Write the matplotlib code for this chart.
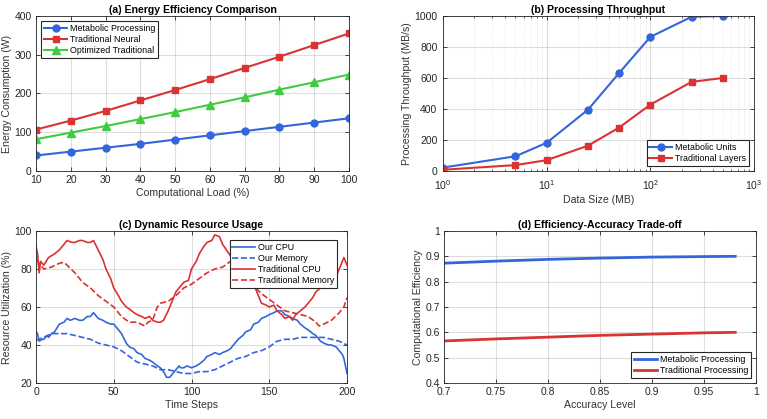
import numpy as np
import matplotlib.pyplot as plt

plt.rcParams['font.family'] = ['Liberation Sans', 'DejaVu Sans']
plt.rcParams['font.size'] = 7.5

BLUE = (0.2, 0.4, 0.86)
RED = (0.85, 0.2, 0.2)
GREEN = (0.25, 0.8, 0.25)
AXC = (0.15, 0.15, 0.15)
LBL = (0.2, 0.2, 0.2)

# (a) energy
load = [10, 20, 30, 40, 50, 60, 70, 80, 90, 100]
e_metabolic = [40, 50, 60, 70, 81, 92, 103, 114, 125, 136]
e_neural = [107, 130, 155, 182, 209, 237, 266, 295, 325, 355]
e_optimized = [82, 99, 116, 134, 152, 171, 190, 210, 229, 249]

# (b) throughput
size_mb = [1, 5, 10, 25, 50, 100, 250, 500]
tp_metabolic = [22, 95, 182, 395, 632, 865, 995, 1000]
tp_traditional = [8, 38, 70, 163, 280, 428, 575, 600]

# (c) resource usage
t_ocpu = [0, 1, 2, 4, 5, 7, 8, 10, 12, 15, 18, 20, 22, 25, 28, 30, 33, 35, 37, 40, 43, 45, 48, 50,
          53, 55, 58, 60, 63, 65, 68, 70, 73, 75, 78, 80, 82, 84, 86, 88, 90, 92, 93, 95, 97, 100,
          103, 105, 108, 110, 113, 115, 118, 120, 123, 125, 128, 130, 133, 135, 138, 140, 143, 145,
          148, 150, 153, 155, 158, 160, 163, 165, 168, 170, 173, 175, 178, 180, 183, 185, 188, 190,
          193, 195, 197, 198, 199, 200]
our_cpu = [47, 46, 42, 43, 43, 45, 44, 46, 47, 51, 52, 54, 53, 54, 53, 53, 55, 55, 57, 54, 53, 52, 51, 51,
           48, 46, 41, 39, 38, 36, 35, 33, 32, 31, 29, 28, 26, 23, 23, 25, 27, 29, 28, 28, 29, 28,
           29, 30, 32, 34, 35, 36, 35, 36, 37, 38, 41, 43, 45, 47, 48, 51, 52, 54, 55, 56, 57, 58,
           58, 56, 55, 54, 53, 51, 49, 48, 46, 45, 42, 41, 40, 40, 39, 37, 35, 33, 29, 25]
t_omem = [0, 5, 10, 15, 20, 25, 30, 35, 40, 45, 50, 55, 60, 65, 70, 75, 80, 85, 90, 95, 100, 105,
          110, 115, 120, 125, 130, 135, 140, 145, 150, 155, 160, 165, 170, 175, 180, 185, 190, 195, 200]
our_mem = [42.5, 44, 46, 46, 46, 45, 44, 43, 41, 40, 39, 37, 34, 31, 30, 29, 27, 27, 26, 25, 25, 26,
           26, 27, 29, 31, 33, 34, 36, 37, 39, 42, 43, 43, 44, 44, 44, 44, 43, 42, 40]
t_tcpu = [0, 1, 2, 3, 5, 8, 10, 12, 15, 18, 20, 23, 25, 28, 30, 33, 35, 37, 40, 43, 45, 48, 50, 53,
          55, 58, 60, 63, 65, 68, 70, 73, 75, 78, 80, 82, 85, 88, 90, 93, 95, 98, 100, 103, 105, 108,
          110, 113, 115, 118, 120, 125, 130, 135, 140, 143, 145, 148, 150, 153, 155, 158, 160, 163,
          165, 167, 170, 173, 175, 178, 180, 183, 185, 188, 190, 193, 195, 198, 200]
trad_cpu = [92, 88, 78, 84, 82, 86, 87, 88, 90, 93, 95, 94, 94, 95, 95, 94, 94, 95, 90, 85, 80, 75, 70, 66,
            63, 60, 59, 57, 56, 55, 54, 55, 53, 52, 52, 53, 58, 64, 68, 71, 73, 74, 80, 84, 88, 92,
            94, 95, 98, 97, 93, 87, 84, 79, 72, 66, 62, 61, 60, 61, 58, 56, 54, 55,
            53, 56, 58, 60, 62, 65, 68, 70, 71, 73, 72, 76, 80, 86, 82]
t_tmem = [0, 3, 5, 10, 15, 18, 20, 25, 30, 35, 40, 45, 50, 55, 60, 65, 70, 72, 75, 78, 80, 85, 90,
          95, 100, 105, 110, 115, 120, 125, 128, 135, 140, 145, 150, 155, 160, 165, 170, 175, 180,
          182, 185, 190, 195, 198, 200]
trad_mem = [85, 82, 80, 81, 83, 83.5, 82, 78, 73, 70, 66, 63, 60, 55, 52, 52, 50, 52, 53, 60, 62, 63, 66,
            70, 72, 75, 78, 80, 81, 84, 85, 76, 71, 67, 64, 61, 58, 57, 56, 55, 52,
            50, 51, 53, 57, 60, 65]

# (d) trade-off
accuracy = [0.70, 0.75, 0.80, 0.85, 0.90, 0.95, 0.98]
eff_metabolic = [0.873, 0.881, 0.888, 0.893, 0.897, 0.899, 0.900]
eff_traditional = [0.566, 0.574, 0.581, 0.588, 0.593, 0.598, 0.600]


def style(ax):
    ax.grid(True, color=(0.15, 0.15, 0.15), alpha=0.15, linewidth=0.8)
    ax.set_axisbelow(True)
    for s in ax.spines.values():
        s.set_color(AXC)
        s.set_linewidth(0.6)
    ax.tick_params(direction='in', top=True, right=True, colors=AXC, labelsize=7.5,
                   length=3, width=0.6, pad=3)
    ax.tick_params(which='minor', direction='in', top=True, right=True, colors=AXC,
                   length=1.5, width=0.5)


def legend(ax, loc, **kw):
    lg = ax.legend(loc=loc, fancybox=False, framealpha=1, edgecolor=AXC, fontsize=6.4,
                   handlelength=2.6, handletextpad=0.3, borderpad=0.3, labelspacing=0.25,
                   borderaxespad=0.6, **kw)
    lg.get_frame().set_linewidth(0.8)
    return lg


def labels(ax, xl, yl, title):
    ax.set_xlabel(xl, color=LBL, fontsize=7.6, labelpad=2)
    ax.set_ylabel(yl, color=LBL, fontsize=7.6, labelpad=2)
    ax.set_title(title, fontweight='bold', fontsize=7.6, pad=2.5)


fig = plt.figure(figsize=(7.67, 4.19), dpi=100)
W, H = 767, 419
def rect(l, t, r, b):
    return [l / W, 1 - b / H, (r - l) / W, (b - t) / H]

ax1 = fig.add_axes(rect(36, 16, 349, 171))
ax2 = fig.add_axes(rect(443, 16, 754, 171))
ax3 = fig.add_axes(rect(36, 231, 347, 383))
ax4 = fig.add_axes(rect(444, 231, 756, 383))

# (a)
ax1.plot(load, e_metabolic, '-o', color=BLUE, lw=1.5, ms=5, label='Metabolic Processing')
ax1.plot(load, e_neural, '-s', color=RED, lw=1.5, ms=4, label='Traditional Neural')
ax1.plot(load, e_optimized, '-^', color=GREEN, lw=1.5, ms=5.5, label='Optimized Traditional')
ax1.set_xlim(10, 100)
ax1.set_ylim(0, 400)
ax1.set_xticks(load)
ax1.set_yticks([0, 100, 200, 300, 400])
labels(ax1, 'Computational Load (%)', 'Energy Consumption (W)', '(a) Energy Efficiency Comparison')
style(ax1)
legend(ax1, 'upper left')

# (b)
ax2.semilogx(size_mb, tp_metabolic, '-o', color=BLUE, lw=1.5, ms=5, label='Metabolic Units')
ax2.semilogx(size_mb, tp_traditional, '-s', color=RED, lw=1.5, ms=4, label='Traditional Layers')
ax2.set_xlim(1, 1000)
ax2.set_ylim(0, 1000)
ax2.set_yticks([0, 200, 400, 600, 800, 1000])
labels(ax2, 'Data Size (MB)', 'Processing Throughput (MB/s)', '(b) Processing Throughput')
style(ax2)
ax2.tick_params(axis='x', which='major', pad=5)
ax2.tick_params(axis='y', which='major', pad=4)
ax2.grid(True, which='minor', axis='x', color=(0.15, 0.15, 0.15), alpha=0.15,
         linewidth=0.6, linestyle=':')
legend(ax2, 'lower right')

# (c)
ax3.plot(t_ocpu, our_cpu, '-', color=BLUE, lw=1.2, label='Our CPU')
ax3.plot(t_omem, our_mem, '--', color=BLUE, lw=1.2, label='Our Memory')
ax3.plot(t_tcpu, trad_cpu, '-', color=RED, lw=1.2, label='Traditional CPU')
ax3.plot(t_tmem, trad_mem, '--', color=RED, lw=1.2, label='Traditional Memory')
ax3.set_xlim(0, 200)
ax3.set_ylim(20, 100)
ax3.set_xticks([0, 50, 100, 150, 200])
ax3.set_yticks([20, 40, 60, 80, 100])
labels(ax3, 'Time Steps', 'Resource Utilization (%)', '(c) Dynamic Resource Usage')
style(ax3)
legend(ax3, 'upper right', bbox_to_anchor=(0.985, 0.975))

# (d)
ax4.plot(accuracy, eff_metabolic, '-', color=BLUE, lw=2, label='Metabolic Processing')
ax4.plot(accuracy, eff_traditional, '-', color=RED, lw=2, label='Traditional Processing')
ax4.set_xlim(0.7, 1)
ax4.set_ylim(0.4, 1)
ax4.set_xticks([0.7, 0.75, 0.8, 0.85, 0.9, 0.95, 1])
ax4.set_xticklabels(['0.7', '0.75', '0.8', '0.85', '0.9', '0.95', '1'])
ax4.set_yticks([0.4, 0.5, 0.6, 0.7, 0.8, 0.9, 1])
ax4.set_yticklabels(['0.4', '0.5', '0.6', '0.7', '0.8', '0.9', '1'])
labels(ax4, 'Accuracy Level', 'Computational Efficiency', '(d) Efficiency-Accuracy Trade-off')
style(ax4)
legend(ax4, 'lower right')

fig.savefig('out.png', dpi=100)
